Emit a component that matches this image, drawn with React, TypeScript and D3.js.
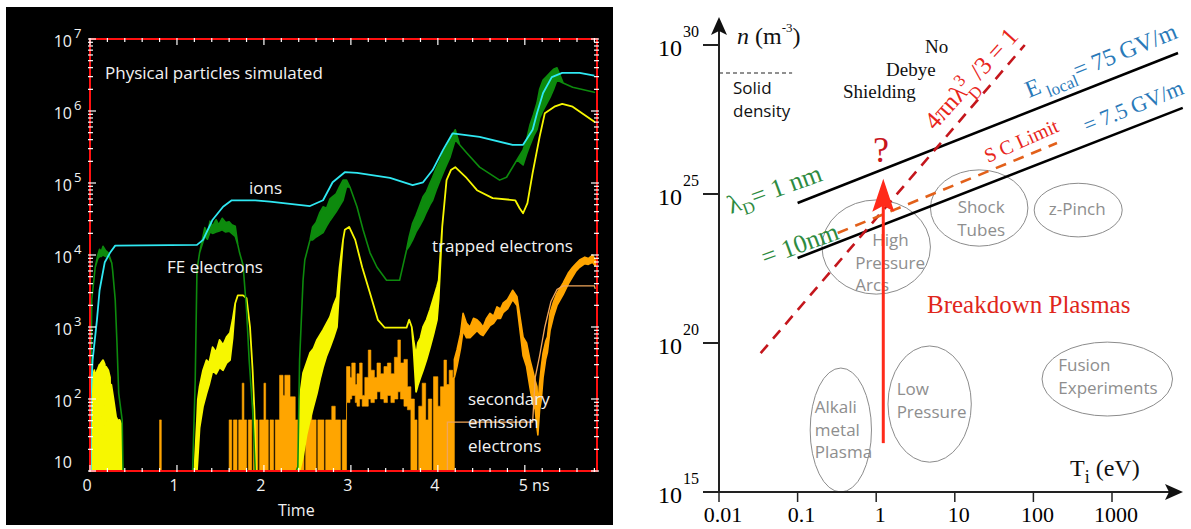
import * as d3 from "d3";

// [t (ns), log10 count] and [t, log10 upper, log10 lower] for noisy bands
type Pt = [number, number];
type Band = [number, number, number];

const IONS: Pt[] = [
  [0.01, 1.01], [0.01, 2.03], [0.03, 2.54], [0.08, 3.1], [0.11, 3.51], [0.17, 3.9],
  [0.23, 4.03], [0.29, 4.13], [1.23, 4.14], [1.3, 4.21], [1.41, 4.49], [1.53, 4.67],
  [1.63, 4.76], [1.9, 4.76], [2.07, 4.74], [2.3, 4.71], [2.53, 4.68], [2.68, 4.76],
  [2.79, 5.01], [2.93, 5.15], [3.07, 5.14], [3.45, 5.07], [3.71, 4.97], [3.83, 5.01],
  [3.94, 5.18], [4.06, 5.46], [4.17, 5.69], [4.48, 5.64], [4.86, 5.53], [4.98, 5.53],
  [5.09, 5.74], [5.14, 5.97], [5.21, 6.25], [5.31, 6.47], [5.43, 6.53], [5.63, 6.53],
  [5.8, 6.49],
];

const FE_ELECTRONS: Band[] = [
  [0.0, 1, 1], [0.01, 2.26, 2.26], [0.02, 3.38, 3.38], [0.06, 3.83, 3.83], [0.09, 4.0, 3.95],
  [0.11, 4.08, 3.98], [0.13, 4.05, 3.98], [0.15, 4.12, 4.0], [0.18, 4.06, 3.98], [0.21, 4.03, 4.0],
  [0.25, 3.89, 3.89], [0.26, 3.79, 3.79], [0.29, 3.38, 3.38], [0.31, 2.78, 2.78], [0.33, 2.08, 2.08],
  [0.37, 1.71, 1.71], [0.38, 1, 1],
  [1.18, 1, 1], [1.21, 2.26, 2.26], [1.23, 3.79, 3.79], [1.26, 4.03, 4.03], [1.32, 4.38, 4.26],
  [1.35, 4.3, 4.22], [1.38, 4.47, 4.32], [1.41, 4.4, 4.3], [1.45, 4.49, 4.32], [1.48, 4.42, 4.33],
  [1.52, 4.51, 4.35], [1.56, 4.45, 4.32], [1.6, 4.46, 4.33], [1.63, 4.42, 4.3], [1.67, 4.4, 4.26],
  [1.7, 4.14, 4.14], [1.72, 4.03, 4.03], [1.76, 3.86, 3.86], [1.8, 3.24, 3.24], [1.83, 2.54, 2.54],
  [1.87, 1.85, 1.85], [1.9, 1, 1],
  [2.37, 1, 1], [2.39, 1.06, 1.06], [2.41, 2.54, 2.54], [2.45, 3.65, 3.65], [2.47, 3.93, 3.93],
  [2.53, 4.21, 4.21], [2.56, 4.39, 4.21], [2.6, 4.45, 4.25], [2.64, 4.58, 4.28], [2.68, 4.67, 4.31],
  [2.72, 4.65, 4.4], [2.76, 4.78, 4.48], [2.79, 4.81, 4.53], [2.83, 4.85, 4.6], [2.87, 4.95, 4.68],
  [2.91, 5.04, 4.76], [2.95, 5.04, 4.95], [2.99, 4.94, 4.94], [3.07, 4.67, 4.67], [3.14, 4.35, 4.35],
  [3.22, 4.03, 4.03], [3.3, 3.83, 3.83], [3.41, 3.65, 3.65], [3.56, 3.65, 3.65], [3.6, 3.86, 3.86],
  [3.64, 4.07, 4.07], [3.67, 4.25, 4.12], [3.71, 4.44, 4.21], [3.75, 4.55, 4.32], [3.79, 4.68, 4.4],
  [3.83, 4.81, 4.49], [3.87, 4.88, 4.6], [3.91, 5.0, 4.7], [3.94, 5.08, 4.76], [3.98, 5.2, 4.9],
  [4.02, 5.3, 5.02], [4.06, 5.42, 5.14], [4.1, 5.5, 5.25], [4.14, 5.6, 5.36], [4.2, 5.74, 5.6],
  [4.25, 5.53, 5.53], [4.33, 5.42, 5.42], [4.48, 5.22, 5.22], [4.71, 5.04, 5.04], [4.79, 5.08, 5.08],
  [4.91, 5.32, 5.32], [4.98, 5.46, 5.25], [5.02, 5.6, 5.4], [5.06, 5.81, 5.53], [5.1, 5.95, 5.65],
  [5.14, 6.11, 5.74], [5.17, 6.3, 5.9], [5.21, 6.43, 6.01], [5.25, 6.48, 6.1], [5.29, 6.53, 6.19],
  [5.33, 6.58, 6.3], [5.37, 6.6, 6.43], [5.44, 6.39, 6.39], [5.55, 6.33, 6.33], [5.8, 6.26, 6.26],
];

const TRAPPED: Band[] = [
  [0.02, 1, 1], [0.03, 2.3, 1], [0.05, 2.4, 1], [0.06, 1.3, 1], [0.065, 2.35, 1], [0.09, 2.42, 1],
  [0.11, 2.48, 1], [0.12, 1.5, 1], [0.125, 2.5, 1], [0.15, 2.54, 1], [0.17, 2.48, 1], [0.18, 1.4, 1],
  [0.185, 2.45, 1], [0.21, 2.4, 1], [0.23, 2.3, 1], [0.24, 1.5, 1], [0.245, 2.2, 1], [0.27, 2.0, 1],
  [0.3, 1.75, 1], [0.32, 1.7, 1], [0.34, 1.71, 1], [0.36, 1.65, 1], [0.37, 1, 1],
  [1.2, 1, 1], [1.23, 1.71, 1], [1.24, 1.99, 1.2], [1.26, 2.17, 1.6], [1.3, 2.4, 1.9],
  [1.34, 2.54, 2.08], [1.37, 2.5, 2.2], [1.41, 2.72, 2.4], [1.45, 2.65, 2.35], [1.49, 2.82, 2.44],
  [1.53, 2.75, 2.4], [1.57, 2.86, 2.5], [1.61, 2.92, 2.54], [1.64, 3.1, 2.85], [1.67, 3.33, 3.33],
  [1.7, 3.44, 3.44], [1.76, 3.44, 3.44], [1.8, 3.4, 3.4], [1.84, 3.0, 3.0], [1.87, 2.4, 2.4],
  [1.89, 1.85, 1.85], [1.91, 1, 1],
  [2.39, 1, 1], [2.41, 2.0, 1], [2.45, 2.36, 1.2], [2.49, 2.5, 1.5], [2.53, 2.64, 1.71],
  [2.57, 2.7, 1.9], [2.61, 2.82, 2.08], [2.65, 2.9, 2.3], [2.68, 2.96, 2.44], [2.72, 3.05, 2.6],
  [2.76, 3.14, 2.72], [2.8, 3.3, 2.85], [2.84, 3.42, 3.0], [2.87, 3.83, 3.6], [2.91, 4.21, 4.21],
  [2.93, 4.35, 4.35], [2.98, 4.39, 4.39], [3.05, 4.21, 4.21], [3.13, 3.83, 3.83], [3.22, 3.47, 3.47],
  [3.31, 3.1, 3.1], [3.39, 2.99, 2.99], [3.64, 2.99, 2.99], [3.67, 3.1, 3.1], [3.7, 3.0, 3.0],
  [3.72, 2.82, 2.7], [3.75, 2.6, 2.1], [3.77, 2.78, 2.19], [3.8, 2.85, 2.3], [3.83, 3.0, 2.4],
  [3.87, 3.1, 2.55], [3.91, 3.24, 2.72], [3.95, 3.4, 2.9], [3.99, 3.56, 3.1], [4.01, 3.65, 3.4],
  [4.05, 4.39, 4.39], [4.1, 5.04, 5.04], [4.15, 5.18, 5.18], [4.2, 5.22, 5.22], [4.33, 5.07, 5.07],
  [4.45, 4.9, 4.9], [4.63, 4.79, 4.79], [4.89, 4.76, 4.76], [4.94, 4.65, 4.65], [4.98, 4.58, 4.58],
  [5.03, 4.72, 4.72], [5.09, 5.14, 5.14], [5.17, 5.64, 5.64], [5.23, 5.97, 5.97], [5.34, 6.06, 6.06],
  [5.43, 6.1, 6.1], [5.55, 6.06, 6.06], [5.8, 5.85, 5.85],
];

// drawn as steps from the bottom of each bar to its top
const SECONDARY_BARS: Band[] = [
  [0.78, 1, 1], [0.8, 1.71, 1], [0.82, 1, 1],
  [1.6, 1.71, 1], [1.63, 1, 1], [1.65, 1.71, 1], [1.69, 1, 1], [1.71, 1.71, 1], [1.75, 2.22, 1],
  [1.77, 1.71, 1], [1.8, 1, 1], [1.82, 1.71, 1], [1.86, 1, 1], [1.88, 1.71, 1], [1.93, 1, 1],
  [1.95, 1.71, 1], [2.0, 2.22, 1], [2.02, 1.71, 1], [2.05, 1, 1], [2.07, 1.71, 1], [2.11, 1, 1],
  [2.13, 1.71, 1], [2.18, 2.33, 1], [2.22, 2.05, 1], [2.24, 2.33, 1], [2.3, 2.03, 1], [2.36, 1.71, 1],
  [2.39, 1, 1], [2.41, 1.71, 1], [2.46, 1, 1], [2.48, 1.71, 1], [2.53, 2.3, 1], [2.55, 1.71, 1],
  [2.6, 1, 1], [2.62, 1.71, 1], [2.69, 1, 1], [2.71, 1.71, 1], [2.78, 1.9, 1], [2.82, 1.71, 1],
  [2.88, 1, 1], [2.9, 1.71, 1],
  [2.95, 2.45, 1.95], [2.99, 2.3, 2.0], [3.01, 2.5, 2.05], [3.05, 2.2, 1.95], [3.07, 2.35, 1.9],
  [3.1, 2.5, 2.0], [3.13, 2.05, 1.9], [3.16, 2.3, 1.9], [3.2, 2.68, 2.0], [3.23, 2.4, 1.95],
  [3.27, 2.3, 2.0], [3.3, 2.5, 2.1], [3.34, 2.35, 2.0], [3.38, 2.45, 1.95], [3.42, 2.5, 2.05],
  [3.46, 2.35, 1.95], [3.5, 2.58, 2.0], [3.54, 2.82, 2.1], [3.57, 2.5, 2.0], [3.61, 2.55, 1.9],
  [3.65, 2.17, 1.85],
  [3.69, 2.0, 1], [3.73, 1.71, 1], [3.76, 1, 1], [3.78, 1.9, 1], [3.82, 2.22, 1], [3.86, 1.71, 1],
  [3.89, 2.0, 1], [3.93, 1, 1], [3.95, 2.31, 1], [4.0, 1.9, 1], [4.03, 2.17, 1], [4.07, 2.54, 1],
  [4.1, 2.2, 1], [4.13, 2.4, 1], [4.17, 2.3, 1], [4.19, 1, 1],
];

const SECONDARY_BAND: Band[] = [
  [4.19, 2.55, 2.3], [4.22, 2.68, 2.45], [4.26, 2.9, 2.7], [4.29, 3.19, 2.95], [4.33, 3.05, 2.85],
  [4.37, 3.0, 2.85], [4.41, 3.12, 2.9], [4.45, 3.1, 2.95], [4.49, 3.05, 2.9], [4.52, 3.0, 2.88],
  [4.56, 3.12, 2.95], [4.6, 3.19, 3.02], [4.64, 3.15, 3.05], [4.68, 3.28, 3.12], [4.72, 3.25, 3.12],
  [4.75, 3.33, 3.2], [4.8, 3.38, 3.25], [4.86, 3.51, 3.38], [4.91, 3.42, 3.3], [4.95, 3.1, 2.9],
  [4.98, 2.86, 2.6], [5.02, 2.78, 2.45], [5.06, 2.54, 2.15], [5.09, 2.4, 1.95], [5.12, 2.25, 1.85],
  [5.14, 2.17, 1.6], [5.15, 1.89, 1.5], [5.17, 2.22, 1.85], [5.19, 2.45, 2.0], [5.21, 2.64, 2.3],
  [5.24, 2.8, 2.55], [5.26, 2.86, 2.65], [5.29, 3.19, 2.95], [5.33, 3.35, 3.15], [5.37, 3.47, 3.3],
  [5.44, 3.61, 3.45], [5.5, 3.75, 3.6], [5.55, 3.83, 3.7], [5.59, 3.88, 3.78], [5.63, 3.93, 3.83],
  [5.69, 3.97, 3.88], [5.73, 3.95, 3.87], [5.78, 4.0, 3.9], [5.81, 3.93, 3.85],
];

const SECONDARY_SMOOTH: Pt[] = [
  [4.11, 1.0], [4.11, 1.68], [5.09, 1.68], [5.12, 2.3], [5.17, 2.6], [5.23, 3.0], [5.3, 3.35],
  [5.37, 3.52], [5.44, 3.57], [5.8, 3.57], [5.81, 3.53],
];

const TIME_TICKS = [0, 1, 2, 3, 4, 5];
const TIME_LABELS = ["0", "1", "2", "3", "4", "5 ns"];
const COUNT_DECADES = [1, 2, 3, 4, 5, 6, 7];

// right panel, everything in log10 T (eV) and log10 n (m^-3)
const TEMP_DECADES = [-2, -1, 0, 1, 2, 3];
const TEMP_LABELS = ["0.01", "0.1", "1", "10", "100", "1000"];
const DENSITY_DECADES = [15, 20, 25, 30];

const DEBYE_1NM: Pt[] = [[-1.0, 24.7], [3.84, 29.73]];
const DEBYE_10NM: Pt[] = [[-1.0, 22.85], [3.9, 27.89]];
const ND_ONE: Pt[] = [[-1.47, 19.66], [1.89, 30.0]];
const SC_LIMIT: Pt[] = [[-0.49, 23.69], [2.3, 26.71]];
const SOLID_DENSITY: Pt[] = [[-2, 29.06], [-1.07, 29.06]];
const BREAKDOWN_PATH: Pt[] = [[0.09, 16.64], [0.09, 25.51]];

const REGIMES = [
  { lines: ["High", "Pressure", "Arcs"], center: [0.0, 23.22], half: [0.69, 1.58] },
  { lines: ["Shock", "Tubes"], center: [1.31, 24.53], half: [0.62, 1.28] },
  { lines: ["z-Pinch"], center: [2.57, 24.46], half: [0.56, 0.9] },
  { lines: ["Alkali", "metal", "Plasma"], center: [-0.45, 17.08], half: [0.39, 2.08] },
  { lines: ["Low", "Pressure"], center: [0.68, 17.95], half: [0.53, 1.95] },
  { lines: ["Fusion", "Experiments"], center: [2.94, 18.79], half: [0.83, 1.24] },
];

// label placement inside each ellipse: [dx of each line from centre, dy of first baseline], anchor
const REGIME_LABEL_LAYOUT: { dx: number[]; dy: number; anchor: string }[] = [
  { dx: [-4, -21, -21], dy: -1, anchor: "start" },
  { dx: [2, 2], dy: 5, anchor: "middle" },
  { dx: [-1], dy: 5, anchor: "middle" },
  { dx: [-26, -26, -26], dy: -17, anchor: "start" },
  { dx: [-33, -33], dy: -9, anchor: "start" },
  { dx: [-49, -49], dy: -8, anchor: "start" },
];

const SANS = "'Open Sans', 'Noto Sans', sans-serif";
const SERIF = "'Liberation Serif', 'DejaVu Serif', serif";

const CYAN = "#2fe8f2";
const GREEN = "#0d8a0d";
const YELLOW = "#f7f700";
const ORANGE = "#ffa500";
const AXIS_RED = "#ff1010";

export default function App() {
  // ---- left panel scales
  const x = d3.scaleLinear().domain([0, 5.83]).range([90, 597]);
  const y = d3.scaleLog().domain([10, 1e7]).range([471, 39]);
  const yv = (l: number) => y(Math.pow(10, l));

  const band = d3.area<Band>().x((d) => x(d[0])).y0((d) => yv(d[2])).y1((d) => yv(d[1]));
  const bars = d3.area<Band>().x((d) => x(d[0])).y0((d) => yv(d[2])).y1((d) => yv(d[1])).curve(d3.curveStepAfter);
  const line = d3.line<Pt>().x((d) => x(d[0])).y((d) => yv(d[1]));

  const [x0, x1] = x.range();
  const [yb, yt] = y.range();
  const timeMinor = d3.range(0, 5.81, 0.2);
  const countTicks = y.ticks();

  // ---- right panel scales
  const X = d3.scaleLog().domain([0.01, 1000]).range([719, 1112]);
  const Y = d3.scaleLog().domain([1e15, 1e30]).range([492, 45]);
  const px = (p: Pt): [number, number] => [X(Math.pow(10, p[0])), Y(Math.pow(10, p[1]))];
  const seg = (a: Pt[]) => {
    const [p, q] = [px(a[0]), px(a[1])];
    return { x1: p[0], y1: p[1], x2: q[0], y2: q[1] };
  };
  const axisX = X(0.01);
  const axisY = Y(1e15);
  const arrow = seg(BREAKDOWN_PATH);

  return (
    <svg width={1191} height={529} style={{ position: "absolute", left: 0, top: 0, background: "#fff" }}>
      {/* ================= left: simulation ================= */}
      <rect x={6} y={7} width={607} height={518} fill="#000" />
      <defs>
        <clipPath id="plotClip">
          <rect x={x0} y={yt} width={x1 - x0} height={yb - yt} />
        </clipPath>
      </defs>
      <g clipPath="url(#plotClip)">
        <path d={bars(SECONDARY_BARS) ?? ""} fill={ORANGE} stroke={ORANGE} strokeWidth={0.6} />
        <path d={band(SECONDARY_BAND) ?? ""} fill={ORANGE} stroke={ORANGE} strokeWidth={1.6} strokeLinejoin="round" />
        <path d={line(SECONDARY_SMOOTH) ?? ""} fill="none" stroke="#f0a55a" strokeWidth={1.3} />
        <path d={band(TRAPPED) ?? ""} fill={YELLOW} stroke={YELLOW} strokeWidth={1.8} strokeLinejoin="round" />
        <path d={band(FE_ELECTRONS) ?? ""} fill={GREEN} stroke={GREEN} strokeWidth={1.6} strokeLinejoin="round" />
        <path d={line(IONS) ?? ""} fill="none" stroke={CYAN} strokeWidth={1.8} strokeLinejoin="round" />
      </g>

      <rect x={x0} y={yt} width={x1 - x0} height={yb - yt} fill="none" stroke={AXIS_RED} strokeWidth={2} />
      {timeMinor.map((t, i) => {
        const major = Math.abs(t - Math.round(t)) < 1e-6;
        const len = major ? 6 : 3;
        return (
          <g key={"tt" + i} stroke="#fff" strokeWidth={1.2}>
            <line x1={x(t)} x2={x(t)} y1={yb + 1} y2={yb - len} />
            <line x1={x(t)} x2={x(t)} y1={yt - 1} y2={yt + len} />
          </g>
        );
      })}
      {countTicks.map((v, i) => {
        const major = Math.abs(Math.log10(v) - Math.round(Math.log10(v))) < 1e-9;
        const len = major ? 6 : 3;
        return (
          <g key={"ct" + i} stroke="#fff" strokeWidth={1.2}>
            <line x1={x0 - 2} x2={x0 + len} y1={y(v)} y2={y(v)} />
            <line x1={x1 + 2} x2={x1 - len} y1={y(v)} y2={y(v)} />
          </g>
        );
      })}

      <g fill="#f2f2f2" fontFamily={SANS}>
        {COUNT_DECADES.map((k) => (
          <g key={"cl" + k}>
            <text x={72} y={yv(k) + (k === 1 ? -3 : 8)} fontSize={16} textAnchor="end">10</text>
            {k > 1 && (
              <text x={74} y={yv(k) - 1} fontSize={13}>{k}</text>
            )}
          </g>
        ))}
        {TIME_TICKS.map((t, i) => (
          <text key={"tl" + t} x={i === 5 ? x(t) - 6 : x(t) - 3} y={491} fontSize={16}
            textAnchor={i === 5 ? "start" : "middle"}>{TIME_LABELS[i]}</text>
        ))}
        <text x={278} y={516} fontSize={16}>Time</text>
        <g fontSize={17}>
          <text x={105} y={79}>Physical particles simulated</text>
          <text x={249} y={194}>ions</text>
          <text x={167} y={273}>FE electrons</text>
          <text x={432} y={252}>trapped electrons</text>
          <text x={468} y={405}>secondary</text>
          <text x={468} y={428}>emission</text>
          <text x={468} y={452}>electrons</text>
        </g>
      </g>

      {/* ================= right: plasma regimes ================= */}
      <g>
        {REGIMES.map((r, i) => {
          const [cx, cy] = px(r.center as Pt);
          const rx = X(Math.pow(10, r.center[0] + r.half[0])) - cx;
          const ry = cy - Y(Math.pow(10, r.center[1] + r.half[1]));
          const lay = REGIME_LABEL_LAYOUT[i];
          return (
            <g key={"rg" + i}>
              <ellipse cx={cx} cy={cy} rx={rx} ry={ry} fill="none" stroke="#8c8c8c" strokeWidth={1} />
              {r.lines.map((s, j) => (
                <text key={j} x={cx + lay.dx[j]} y={cy + lay.dy + j * 22.5} fontFamily={SANS}
                  fontSize={17} fill="#8e8e8e" textAnchor={lay.anchor}>{s}</text>
              ))}
            </g>
          );
        })}

        <line {...seg(SOLID_DENSITY)} stroke="#222" strokeWidth={1.2} strokeDasharray="4 3" />
        <line {...seg(DEBYE_1NM)} stroke="#000" strokeWidth={2.6} />
        <line {...seg(DEBYE_10NM)} stroke="#000" strokeWidth={2.6} />
        <line {...seg(ND_ONE)} stroke="#c4161c" strokeWidth={2.6} strokeDasharray="11 8" />
        <line {...seg(SC_LIMIT)} stroke="#e2601a" strokeWidth={2.6} strokeDasharray="11 8" />

        {/* breakdown arrow */}
        <line x1={arrow.x1} y1={arrow.y1} x2={arrow.x2} y2={arrow.y2 + 24} stroke="#ff2a1a" strokeWidth={3} />
        <path d={`M${arrow.x2},${arrow.y2} L${arrow.x2 + 11},${arrow.y2 + 33} L${arrow.x2},${arrow.y2 + 27} L${arrow.x2 - 11},${arrow.y2 + 33} Z`}
          fill="#ff2a1a" />

        {/* axes */}
        <line x1={axisX} x2={axisX} y1={20} y2={axisY} stroke="#222" strokeWidth={2} />
        <path d={`M${axisX},17 L${axisX + 8},35 L${axisX},31 L${axisX - 8},35 Z`} fill="#111" />
        <line x1={703} x2={1178} y1={axisY} y2={axisY} stroke="#222" strokeWidth={2} />
        <path d={`M1183,${axisY} L1165,${axisY - 8} L1169,${axisY} L1165,${axisY + 8} Z`} fill="#111" />
        {DENSITY_DECADES.map((k) => (
          <g key={"nd" + k}>
            <line x1={703} x2={axisX} y1={Y(Math.pow(10, k))} y2={Y(Math.pow(10, k))} stroke="#222" strokeWidth={2} />
            <text x={682} y={Y(Math.pow(10, k)) + 11} fontFamily={SERIF} fontSize={24} textAnchor="end">10</text>
            <text x={683} y={Y(Math.pow(10, k)) - 8} fontFamily={SERIF} fontSize={16}>{k}</text>
          </g>
        ))}
        {TEMP_DECADES.map((k, i) => (
          <g key={"td" + k}>
            <line x1={X(Math.pow(10, k))} x2={X(Math.pow(10, k))} y1={axisY} y2={axisY + 10} stroke="#222" strokeWidth={1.5} />
            <text x={X(Math.pow(10, k)) + 4} y={522} fontFamily={SERIF} fontSize={22} textAnchor="middle">{TEMP_LABELS[i]}</text>
          </g>
        ))}

        <g fontFamily={SERIF} fill="#111">
          <text x={737} y={44} fontSize={24}>
            <tspan fontStyle="italic">n</tspan> (m<tspan dy={-12} fontSize={13}>-3</tspan><tspan dy={12}>)</tspan>
          </text>
          <text x={1070} y={476} fontSize={24}>
            T<tspan dy={7} fontSize={18}>i</tspan><tspan dy={-7}> (eV)</tspan>
          </text>
          <text x={925} y={53} fontSize={19}>No</text>
          <text x={886} y={76} fontSize={19}>Debye</text>
          <text x={843} y={98} fontSize={19}>Shielding</text>
        </g>
        <g fontFamily={SANS} fill="#111" fontSize={17}>
          <text x={733} y={94}>Solid</text>
          <text x={733} y={117}>density</text>
        </g>

        <g fontFamily={SERIF}>
          <text transform="translate(731,214) rotate(-20)" fontSize={26} fill="#2e8b3f">
            λ<tspan dy={6} fontSize={17}>D</tspan><tspan dy={-6}>= 1 nm</tspan>
          </text>
          <text transform="translate(765,266) rotate(-20)" fontSize={26} fill="#2e8b3f">= 10nm</text>
          <text transform="translate(1029,98) rotate(-22)" fontSize={24} fill="#2a7ab9">
            E<tspan dy={7} fontSize={17}> local</tspan><tspan dy={-7}>= 75 GV/m</tspan>
          </text>
          <text transform="translate(1087,133) rotate(-22)" fontSize={22} fill="#2a7ab9">= 7.5 GV/m</text>
          <text transform="translate(935,131) rotate(-48)" fontSize={25} fill="#e8251b">
            4πnλ<tspan dy={-10} fontSize={17}>3</tspan><tspan dx={-9} dy={20} fontSize={17}>D</tspan>
            <tspan dy={-10}> /3 = 1</tspan>
          </text>
          <text transform="translate(988,163) rotate(-24)" fontSize={20} fill="#e8251b">S C Limit</text>
          <text x={881} y={162} fontSize={36} fill="#c8161d" textAnchor="middle">?</text>
          <text x={927} y={313} fontSize={25} fill="#e0261b">Breakdown Plasmas</text>
        </g>
      </g>
    </svg>
  );
}
